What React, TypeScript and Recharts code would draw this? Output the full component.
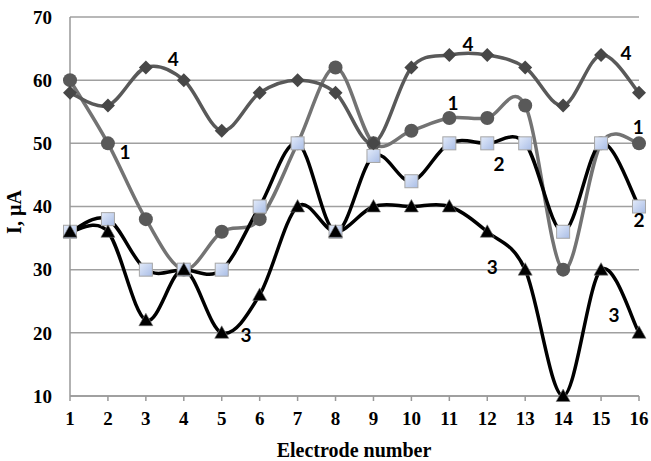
import React from 'react';
import { LineChart, Line, XAxis, YAxis, CartesianGrid, ReferenceDot } from 'recharts';

const electrodes = [1, 2, 3, 4, 5, 6, 7, 8, 9, 10, 11, 12, 13, 14, 15, 16];
const series1 = [60, 50, 38, 30, 36, 38, 50, 62, 50, 52, 54, 54, 56, 30, 50, 50];
const series2 = [36, 38, 30, 30, 30, 40, 50, 36, 48, 44, 50, 50, 50, 36, 50, 40];
const series3 = [36, 36, 22, 30, 20, 26, 40, 36, 40, 40, 40, 36, 30, 10, 30, 20];
const series4 = [58, 56, 62, 60, 52, 58, 60, 58, 50, 62, 64, 64, 62, 56, 64, 58];
const yTicks = [10, 20, 30, 40, 50, 60, 70];

const annotX = [3.72, 2.45, 11.49, 11.1, 12.31, 15.66, 15.98, 16.0, 5.64, 12.13, 15.34];
const annotY = [63.35, 48.6, 65.7, 56.4, 46.7, 64.3, 52.6, 37.9, 19.66, 30.4, 22.8];
const annotText = ['4', '1', '4', '1', '2', '4', '1', '2', '3', '3', '3'];

const data = electrodes.map((x, i) => ({ x, s1: series1[i], s2: series2[i], s3: series3[i], s4: series4[i] }));
const annotations = annotX.map((x, i) => ({ x, y: annotY[i], text: annotText[i] }));

// Excel-like smoothing (Catmull-Rom as cubic Bezier)
const smooth: any = (context: any) => {
  let pts: number[][] = [];
  return {
    areaStart() {},
    areaEnd() {},
    lineStart() { pts = []; },
    point(x: number, y: number) { pts.push([+x, +y]); },
    lineEnd() {
      const n = pts.length;
      if (!n) return;
      context.moveTo(pts[0][0], pts[0][1]);
      for (let i = 0; i < n - 1; i++) {
        const p0 = pts[i - 1] || pts[i];
        const p1 = pts[i];
        const p2 = pts[i + 1];
        const p3 = pts[i + 2] || p2;
        context.bezierCurveTo(
          p1[0] + (p2[0] - p0[0]) / 6, p1[1] + (p2[1] - p0[1]) / 6,
          p2[0] - (p3[0] - p1[0]) / 6, p2[1] - (p3[1] - p1[1]) / 6,
          p2[0], p2[1]
        );
      }
    },
  };
};

const CircleDot = (p: any) => <circle key={p.index} cx={p.cx} cy={p.cy} r={7} fill="#595959" />;
const SquareDot = (p: any) => (
  <rect key={p.index} x={p.cx - 6.5} y={p.cy - 6.5} width={13} height={13} fill="url(#sqGrad)" stroke="#a6a6a6" strokeWidth={1} />
);
const DiamondDot = (p: any) => (
  <path key={p.index} d={`M${p.cx},${p.cy - 7}L${p.cx + 7},${p.cy}L${p.cx},${p.cy + 7}L${p.cx - 7},${p.cy}Z`} fill="#474747" />
);
const TriangleDot = (p: any) => (
  <path key={p.index} d={`M${p.cx},${p.cy - 7}L${p.cx + 7},${p.cy + 5.5}L${p.cx - 7},${p.cy + 5.5}Z`} fill="#000" stroke="#777" strokeWidth={0.6} />
);

const tickFont = { fontFamily: '"Liberation Serif", serif', fontWeight: 700, fontSize: 19, fill: '#000' };

export default function App() {
  return (
    <div style={{ position: 'absolute', left: 0, top: 0, background: '#fff' }}>
      <LineChart width={651} height={461} data={data} margin={{ top: 17, right: 12, left: 0, bottom: 0 }}>
        <defs>
          <linearGradient id="sqGrad" x1="0" y1="0" x2="1" y2="1">
            <stop offset="0%" stopColor="#e3ebfa" />
            <stop offset="100%" stopColor="#a9bde6" />
          </linearGradient>
        </defs>
        <CartesianGrid vertical={false} stroke="#a0a0a0" strokeWidth={1.5} />
        <XAxis
          dataKey="x"
          type="number"
          domain={[1, 16]}
          ticks={electrodes}
          interval={0}
          height={65}
          tick={tickFont}
          tickSize={5}
          tickMargin={11}
          stroke="#999"
          strokeWidth={1.5}
          label={{
            content: () => (
              <text x={354} y={457} textAnchor="middle" style={{ ...tickFont, fontSize: 20 }}>Electrode number</text>
            ),
          }}
        />
        <YAxis
          type="number"
          domain={[10, 70]}
          ticks={yTicks}
          width={70}
          tick={tickFont}
          tickLine={false}
          tickMargin={12}
          stroke="#999"
          strokeWidth={1.5}
          label={{
            content: () => (
              <text x={21} y={212} textAnchor="middle" transform="rotate(-90 21 212)" style={{ ...tickFont, fontSize: 20 }}>I, µA</text>
            ),
          }}
        />
        <Line dataKey="s1" type={smooth} stroke="#737373" strokeWidth={3.5} dot={CircleDot} activeDot={false} isAnimationActive={false} />
        <Line dataKey="s2" type={smooth} stroke="#000" strokeWidth={3.5} dot={SquareDot} activeDot={false} isAnimationActive={false} />
        <Line dataKey="s3" type={smooth} stroke="#000" strokeWidth={3.5} dot={TriangleDot} activeDot={false} isAnimationActive={false} />
        <Line dataKey="s4" type={smooth} stroke="#595959" strokeWidth={3.5} dot={DiamondDot} activeDot={false} isAnimationActive={false} />
        {annotations.map((a, i) => (
          <ReferenceDot
            key={i}
            x={a.x}
            y={a.y}
            r={0}
            ifOverflow="visible"
            label={{
              content: (props: any) => {
                const vb = props.viewBox || {};
                const cx = vb.x + (vb.width || 0) / 2;
                const cy = vb.y + (vb.height || 0) / 2;
                return (
                  <text x={cx} y={cy} dy="0.36em" textAnchor="middle" style={{ fontFamily: 'Lato, sans-serif', fontWeight: 700, fontSize: 19, fill: '#000' }}>
                    {a.text}
                  </text>
                );
              },
            }}
          />
        ))}
      </LineChart>
    </div>
  );
}
